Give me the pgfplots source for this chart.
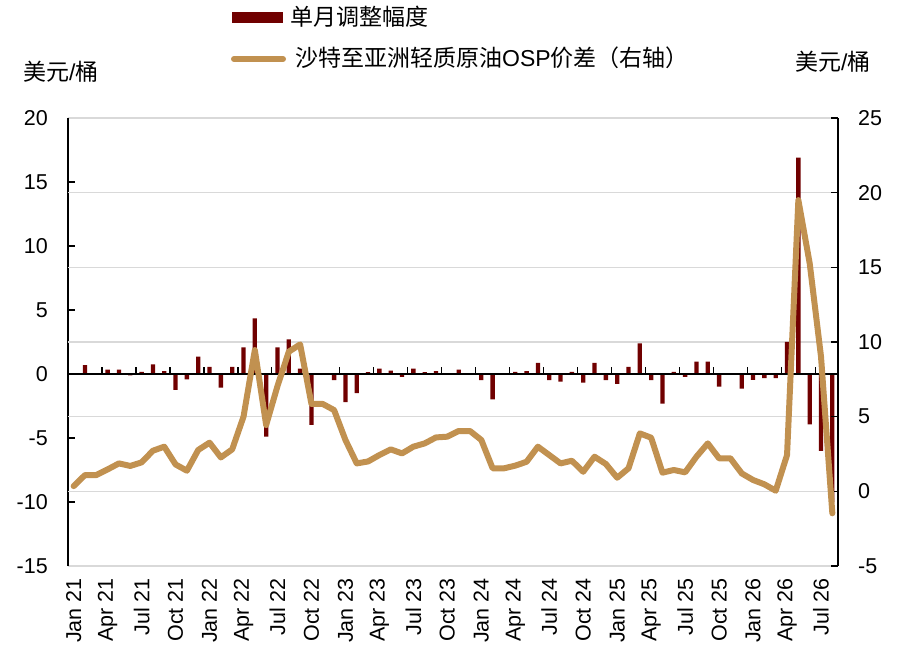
\documentclass[border=0pt]{standalone}
\usepackage{pgfplots}
\pgfplotsset{compat=1.18}
\usepackage{fontspec}
\setmainfont{Liberation Sans}
\newfontfamily\cjk{Noto Sans CJK SC}
\definecolor{barred}{RGB}{112,0,0}
\definecolor{osp}{RGB}{193,145,80}
\definecolor{gridgray}{RGB}{217,217,217}
\begin{document}
\fontsize{23}{27}\selectfont
\begin{tikzpicture}[x=1pt,y=1pt]
\useasboundingbox (0,0) rectangle (900,659);
\coordinate (O) at (68,93);
% left axis: bars
\begin{axis}[
  at={(O)}, anchor=south west,
  scale only axis, width=770pt, height=448pt,
  xmin=-0.5, xmax=67.5, ymin=-15, ymax=20,
  ytick={-15,-10,...,20},
  ytick pos=left,
  separate axis lines,
  x axis line style={draw=gridgray, line width=1.5pt},
  y axis line style={draw=black, line width=1.3pt},
  tick align=inside,
  major tick length=7pt,
  ytick style={black, line width=1.3pt},
  xtick style={draw=none},
  xtick={0,3,...,66},
  xticklabels={Jan 21,Apr 21,Jul 21,Oct 21,Jan 22,Apr 22,Jul 22,Oct 22,Jan 23,Apr 23,Jul 23,Oct 23,Jan 24,Apr 24,Jul 24,Oct 24,Jan 25,Apr 25,Jul 25,Oct 25,Jan 26,Apr 26,Jul 26},
  xticklabel style={rotate=90, anchor=east, inner sep=0pt},
  xticklabel shift=12pt,
  yticklabel style={anchor=east, inner sep=0pt},
  yticklabel shift=20pt,
  tick label style={font=\fontsize{21.5}{24}\selectfont},
  /pgf/number format/assume math mode=true,
  extra y ticks={-9.16667,-3.33333,2.5,8.33333,14.16667},
  extra y tick labels={},
  extra y tick style={ymajorgrids=true, major tick length=0pt},
  major grid style={draw=gridgray, line width=1.5pt},
  clip=false,
]
\addplot[ybar, bar width=4.3pt, fill=barred, draw=none] coordinates {
(0,0) (1,0.7) (2,0) (3,0.34) (4,0.34) (5,-0.1) (6,0.16) (7,0.75) (8,0.23) (9,-1.25)
(10,-0.42) (11,1.35) (12,0.55) (13,-1.07) (14,0.55) (15,2.08) (16,4.35) (17,-4.9) (18,2.08) (19,2.7)
(20,0.42) (21,-3.98) (22,0) (23,-0.47) (24,-2.2) (25,-1.5) (26,0.15) (27,0.42) (28,0.26) (29,-0.23)
(30,0.42) (31,0.14) (32,0.23) (33,0) (34,0.34) (35,0) (36,-0.47) (37,-1.98) (38,0) (39,0.16)
(40,0.23) (41,0.86) (42,-0.47) (43,-0.6) (44,0.16) (45,-0.68) (46,0.86) (47,-0.47) (48,-0.78) (49,0.55)
(50,2.4) (51,-0.47) (52,-2.32) (53,0.16) (54,-0.23) (55,0.96) (56,0.96) (57,-0.99) (58,0) (59,-1.15)
(60,-0.45) (61,-0.33) (62,-0.33) (63,2.5) (64,16.9) (65,-3.93) (66,-6.0) (67,-10.0)
};
\addplot[black, line width=1.5pt] coordinates {(-0.5,0) (67.5,0)};
\addplot[ycomb, black, line width=1.3pt, mark=none] coordinates {
(2.5,0.55) (5.5,0.55) (8.5,0.55) (11.5,0.55) (14.5,0.55) (17.5,0.55) (20.5,0.55) (23.5,0.55)
(26.5,0.55) (29.5,0.55) (32.5,0.55) (35.5,0.55) (38.5,0.55) (41.5,0.55) (44.5,0.55) (47.5,0.55)
(50.5,0.55) (53.5,0.55) (56.5,0.55) (59.5,0.55) (62.5,0.55) (65.5,0.55)
};
\end{axis}
% right axis: OSP spread line
\begin{axis}[
  at={(O)}, anchor=south west,
  scale only axis, width=770pt, height=448pt,
  xmin=-0.5, xmax=67.5, ymin=-5, ymax=25,
  ytick={-5,0,...,25},
  axis y line*=right,
  axis x line=none,
  xtick=\empty,
  y axis line style={draw=black, line width=1.3pt},
  tick align=inside,
  major tick length=7pt,
  ytick style={black, line width=1.3pt},
  yticklabel style={anchor=west, inner sep=0pt},
  yticklabel shift=20pt,
  tick label style={font=\fontsize{21.5}{24}\selectfont},
  /pgf/number format/assume math mode=true,
]
\addplot[osp, line width=6pt, line join=round, line cap=round, mark=none] coordinates {
(0,0.35) (1,1.09) (2,1.09) (3,1.47) (4,1.87) (5,1.7) (6,1.94) (7,2.72) (8,2.99) (9,1.8)
(10,1.38) (11,2.77) (12,3.26) (13,2.27) (14,2.81) (15,5.0) (16,9.46) (17,4.44) (18,7.05) (19,9.35)
(20,9.84) (21,5.85) (22,5.85) (23,5.44) (24,3.44) (25,1.87) (26,2.0) (27,2.43) (28,2.81) (29,2.54)
(30,2.99) (31,3.21) (32,3.61) (33,3.66) (34,4.04) (35,4.04) (36,3.44) (37,1.54) (38,1.54) (39,1.72)
(40,1.98) (41,2.99) (42,2.43) (43,1.87) (44,2.05) (45,1.31) (46,2.32) (47,1.83) (48,0.91) (49,1.54)
(50,3.88) (51,3.59) (52,1.25) (53,1.43) (54,1.27) (55,2.32) (56,3.21) (57,2.21) (58,2.21) (59,1.2)
(60,0.76) (61,0.47) (62,0.04) (63,2.43) (64,19.5) (65,15.27) (66,9.02) (67,-1.47)
};
\end{axis}
% legend
\fill[barred] (232,636) rectangle (283,647);
\node[anchor=west, inner sep=0pt] at (290,642) {\cjk 单月调整幅度};
\draw[osp, line width=6pt, line cap=round] (234,600) -- (283,600);
\node[anchor=west, inner sep=0pt] at (295,601) {{\cjk 沙特至亚洲轻质原油}OSP{\cjk 价差（右轴）}};
% unit labels
\node[anchor=west, inner sep=0pt] at (23,587) {{\cjk 美元}/{\cjk 桶}};
\node[anchor=west, inner sep=0pt] at (795,597) {{\cjk 美元}/{\cjk 桶}};
\end{tikzpicture}
\end{document}
